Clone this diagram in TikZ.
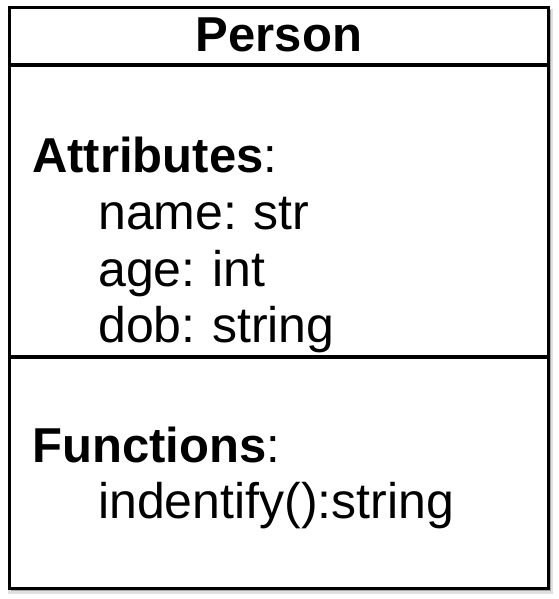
\documentclass[tikz,border=0pt]{standalone}
\usepackage{fontspec}
\setmainfont{Liberation Sans}
\usetikzlibrary{positioning}
\newcommand{\memberfont}{\fontsize{50}{56}\selectfont\spaceskip 0.24em\relax}
\tikzset{
  classbox/.style={draw=black, line width=3pt, fill=white},
  classline/.style={black, line width=3.2pt},
  heading/.style={anchor=base, inner sep=0pt, font=\fontsize{49}{56}\selectfont\bfseries},
  section/.style={anchor=base west, inner sep=0pt, font=\fontsize{49}{56}\selectfont},
  member/.style={anchor=base west, inner sep=0pt, font=\memberfont}
}

\begin{document}
\begin{tikzpicture}[x=1pt, y=-1pt]
\useasboundingbox (0,0) rectangle (558,599);
% shadow
\fill [black, opacity=0.12] (8,9) rectangle (553,594);
\fill [black, opacity=0.25] (11,10) rectangle (551,591);
\draw [classbox] (9.5,7.5) rectangle (548.5,588.5);
\coordinate (l1) at (9.5,65);
\coordinate (r1) at (548.5,65);
\coordinate (l2) at (9.5,357);
\coordinate (r2) at (548.5,357);
\draw [classline] (l1) -- (r1);
\draw [classline] (l2) -- (r2);
\node [heading] (person) at (279,52) {Person};
\node [section] (attrs) at (32,172) {\textbf{Attributes}:};
\node [member] (name) at (98,229) {name: str};
\node [member] (age) at (98,286) {age: int};
\node [member] (dob) at (98,342) {dob: string};
\node [section] (funcs) at (32,462) {\textbf{Functions}:};
\node [member] (ident) at (98,518) {indentify():string};
\end{tikzpicture}
\end{document}
